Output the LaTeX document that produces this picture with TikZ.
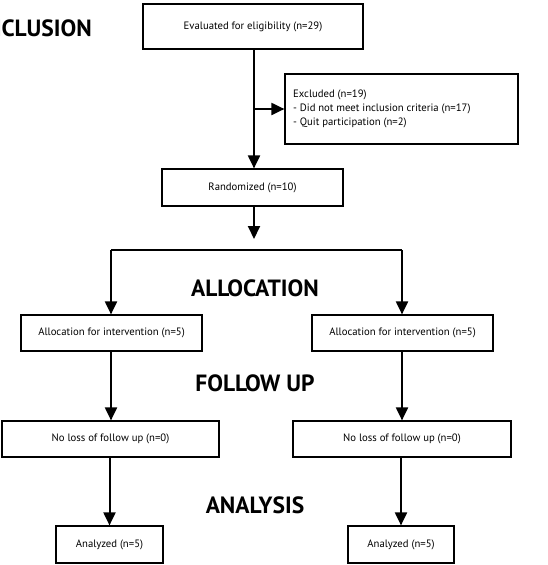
\documentclass[tikz,border=0pt]{standalone}
\usepackage{fontspec}
\setmainfont{PT Sans}
\usetikzlibrary{arrows.meta}
\begin{document}
\begin{tikzpicture}[x=1pt,y=-1pt,
  box/.style={draw,line width=1.2pt,inner sep=0pt,font=\fontsize{10.7}{12}\selectfont,align=center},
  conn/.style={line width=2pt},
  arr/.style={conn,-{Triangle[width=12pt,length=13pt]}},
  phase/.style={inner sep=0pt,font=\fontsize{23.5}{26}\selectfont\bfseries}]
\useasboundingbox (0,0) rectangle (548,565);
% boxes
\node[box,minimum width=220pt,minimum height=45pt] (eval) at (253,26.5) {Evaluated for eligibility (n=29)};
\node[box,minimum width=233pt,minimum height=70pt] (excl) at (401.5,109) {};
\node[anchor=west,inner sep=0pt,align=left,font=\fontsize{10.7}{14}\selectfont] (excltxt) at (293,109) {Excluded (n=19)\\- Did not meet inclusion criteria (n=17)\\- Quit participation (n=2)};
\node[box,minimum width=181pt,minimum height=37pt] (rand) at (252.5,187.5) {Randomized (n=10)};
\node[box,minimum width=181pt,minimum height=36pt] (al1) at (111.5,333) {Allocation for intervention (n=5)};
\node[box,minimum width=181pt,minimum height=36pt] (al2) at (402.5,333) {Allocation for intervention (n=5)};
\node[box,minimum width=217pt,minimum height=36pt] (nl1) at (110.5,439) {No loss of follow up (n=0)};
\node[box,minimum width=218pt,minimum height=36pt] (nl2) at (402,439) {No loss of follow up (n=0)};
\node[box,minimum width=107pt,minimum height=37pt] (an1) at (109.5,544.5) {Analyzed (n=5)};
\node[box,minimum width=106pt,minimum height=37pt] (an2) at (401,544.5) {Analyzed (n=5)};
% phase labels
\node[phase,anchor=east] (inc) at (92,28.5) {INCLUSION};
\node[phase] (allo) at (255,288) {ALLOCATION};
\node[phase] (fol) at (255,383) {FOLLOW UP};
\node[phase] (ana) at (255,505) {ANALYSIS};
% coordinates
\coordinate (br) at (254,109);
\coordinate (split) at (254,239);
\coordinate (hl) at (111,250);
\coordinate (hr) at (402,250);
% connectors
\draw[arr] (eval.south -| br) -- (rand.north -| br);
\draw[arr] (br) -- (excl.west);
\draw[arr] (rand.south -| split) -- (split);
\draw[conn] (hl) -- (hr);
\draw[arr] (hl) -- (al1.north -| hl);
\draw[arr] (hr) -- (al2.north -| hr);
\draw[arr] (al1.south -| hl) -- (nl1.north -| hl);
\draw[arr] (al2.south -| hr) -- (nl2.north -| hr);
\draw[arr] (nl1.south -| an1) -- (an1.north);
\draw[arr] (nl2.south -| an2) -- (an2.north);
\end{tikzpicture}
\end{document}
